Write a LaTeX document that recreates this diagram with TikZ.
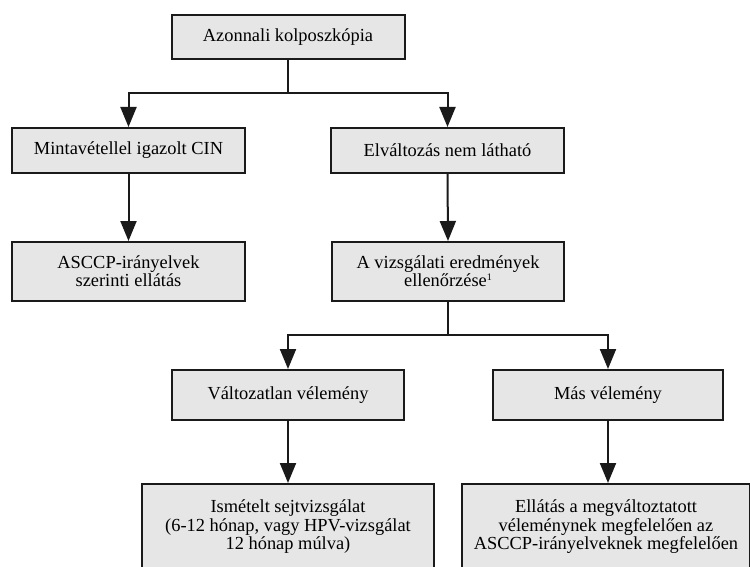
\documentclass[tikz,border=0pt]{standalone}
\usepackage{fontspec}
\setmainfont{Liberation Serif}
\usetikzlibrary{arrows.meta}
\definecolor{boxfill}{HTML}{E6E6E6}
\definecolor{ink}{HTML}{1A1A1A}
\begin{document}
\begin{tikzpicture}[x=1pt,y=1pt,
  flowbox/.style={draw=ink, fill=boxfill, line width=2pt, align=center,
    font=\fontsize{18.4}{18.3}\selectfont, inner sep=0pt},
  link/.style={draw=ink, line width=2pt},
  flowarrow/.style={link, -{Triangle[length=20pt 0,width=16pt 0]}}]
\clip (0,0) rectangle (750,-567);
\fill[white] (0,0) rectangle (750,-567);

% boxes (centres and sizes in px of the 750x567 frame)
\node[flowbox, minimum width=233, minimum height=44] (top) at (288,-37) {Azonnali kolposzkópia};
\node[flowbox, minimum width=233, minimum height=45] (cin) at (128.5,-150.5) {Mintavétellel igazolt CIN};
\node[flowbox, minimum width=233, minimum height=45] (nolesion) at (447.5,-150.5) {Elváltozás nem látható};
\node[flowbox, minimum width=233, minimum height=59] (ascep) at (128.5,-271.5) {ASCCP-irányelvek\\szerinti ellátás};
\node[flowbox, minimum width=232, minimum height=59] (review) at (448,-271.5)
  {A vizsgálati eredmények\\ellenőrzése\raisebox{6pt}{\fontsize{10}{10}\selectfont 1}};
\node[flowbox, minimum width=232, minimum height=50] (unchanged) at (288,-395) {Változatlan vélemény};
\node[flowbox, minimum width=230, minimum height=50] (other) at (608,-395) {Más vélemény};
\node[flowbox, minimum width=292, anchor=north, inner ysep=16pt] (repeat) at (288,-483)
  {Ismételt sejtvizsgálat\\(6-12 hónap, vagy HPV-vizsgálat\\12 hónap múlva)\\\rule{0pt}{40pt}};
\node[flowbox, minimum width=288, anchor=north, inner ysep=16pt] (changed) at (606,-483)
  {Ellátás a megváltoztatott\\véleménynek megfelelően az\\ASCCP-irányelveknek megfelelően\\\rule{0pt}{40pt}};

% branch points
\coordinate (split1) at (288,-93);
\coordinate (split2) at (448,-335);

% connectors
\draw[link] (top.south) -- (split1);
\draw[flowarrow] (split1) -| (cin.north);
\draw[flowarrow] (split1) -| (nolesion.north);
\draw[flowarrow] (cin.south) -- (ascep.north);
\draw[flowarrow] (nolesion.south) -- (review.north);
\draw[link] (review.south) -- (split2);
\draw[flowarrow] (split2) -| (unchanged.north);
\draw[flowarrow] (split2) -| (other.north);
\draw[flowarrow] (unchanged.south) -- (repeat.north);
\draw[flowarrow] (other.south) -- (other.south |- repeat.north);
\end{tikzpicture}
\end{document}
